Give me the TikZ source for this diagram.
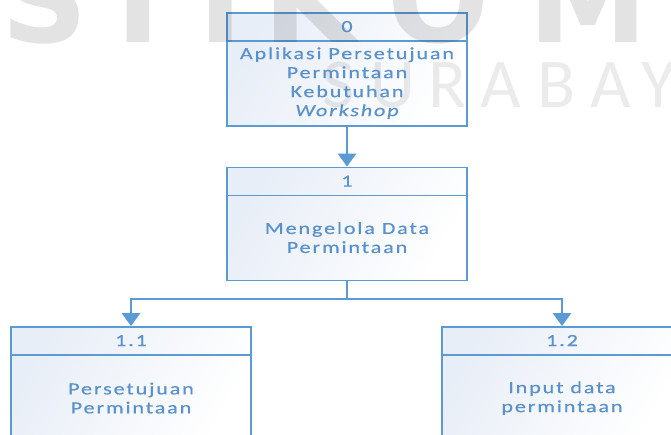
\documentclass[tikz,border=0pt]{standalone}
\usepackage{fontspec}
\setmainfont{Carlito}
\newfontfamily\boxfont{Carlito}[LetterSpace=11, FakeStretch=1.3, FakeBold=0.4]
\newfontfamily\markfont{Carlito}
\newfontfamily\logofont{DejaVu Sans}
\usetikzlibrary{arrows.meta}

\definecolor{dfdline}{HTML}{5B9BD5}
\definecolor{dfdtext}{HTML}{5891CC}
\definecolor{dfdtint}{HTML}{E8EEF7}

\tikzset{
  procbox/.style={draw=dfdline, line width=1.8pt, minimum width=240pt,
    minimum height=113pt, inner sep=0pt, left color=dfdtint, right color=white,
    shading angle=60},
  divider/.style={draw=dfdline, line width=1.5pt},
  headtext/.style={text=dfdtext, inner sep=0pt, font=\boxfont\fontsize{17}{19}\selectfont},
  bodytext/.style={text=dfdtext, inner sep=0pt, align=center,
    font=\boxfont\fontsize{17}{19}\selectfont},
  link/.style={draw=dfdline, line width=2.7pt},
  flow/.style={link, -{Triangle[width=18pt,length=13pt]}},
  logomark/.style={text=black, text opacity=0.11, inner sep=0pt, anchor=base,
    font=\logofont\bfseries\fontsize{120}{120}\selectfont},
  citymark/.style={text=black, text opacity=0.08, inner sep=0pt, anchor=base,
    font=\markfont\fontsize{70}{70}\selectfont}
}

\begin{document}
\begin{tikzpicture}[x=1pt, y=-1pt]
  \useasboundingbox (0,0) rectangle (671,434);
  \clip (0,0) rectangle (671,434);

  % process boxes
  \node[procbox] (p0)  at (347,69.5) {};
  \node[procbox] (p1)  at (347,224) {};
  \node[procbox] (p11) at (131,383.5) {};
  \node[procbox] (p12) at (562,383.5) {};

  % header separators
  \foreach \b in {p0,p1,p11,p12}
    \draw[divider] ([yshift=-29pt]\b.north west) -- ([yshift=-29pt]\b.north east);

  % connectors
  \coordinate (fork) at (347,299);
  \draw[flow] (p0.south) -- (p1.north);
  \draw[link] (p1.south) -- (fork);
  \draw[flow] (fork) -| (p11.north);
  \draw[flow] (fork) -| (p12.north);

  % background logo lettering
  \foreach \ch/\cx in {S/45, T/138, I/221, K/310, O/438, M/588}
    \node[logomark] (logo\ch) at (\cx,42) {\ch};
  \foreach \ch/\cx [count=\i] in {S/339, U/393, R/447, A/501, B/557, A/611, Y/659, A/713}
    \node[citymark] (city\i) at (\cx,107) {\ch};

  % box labels
  \node[headtext] (p0h)  at ([yshift=-14.5pt]p0.north)  {0};
  \node[headtext] (p1h)  at ([yshift=-14.5pt]p1.north)  {1};
  \node[headtext] (p11h) at ([yshift=-14.5pt]p11.north) {1.1};
  \node[headtext] (p12h) at ([yshift=-14.5pt]p12.north) {1.2};

  \node[bodytext] (p0b) at ([yshift=-71pt]p0.north)
    {Aplikasi Persetujuan\\Permintaan\\Kebutuhan\\\itshape Workshop};
  \node[bodytext] (p1b) at ([yshift=-71pt]p1.north)
    {Mengelola Data\\Permintaan};
  \node[bodytext] (p11b) at ([yshift=-72pt]p11.north)
    {Persetujuan\\Permintaan};
  \node[bodytext] (p12b) at ([yshift=-72pt]p12.north)
    {Input data\\permintaan};
\end{tikzpicture}
\end{document}
